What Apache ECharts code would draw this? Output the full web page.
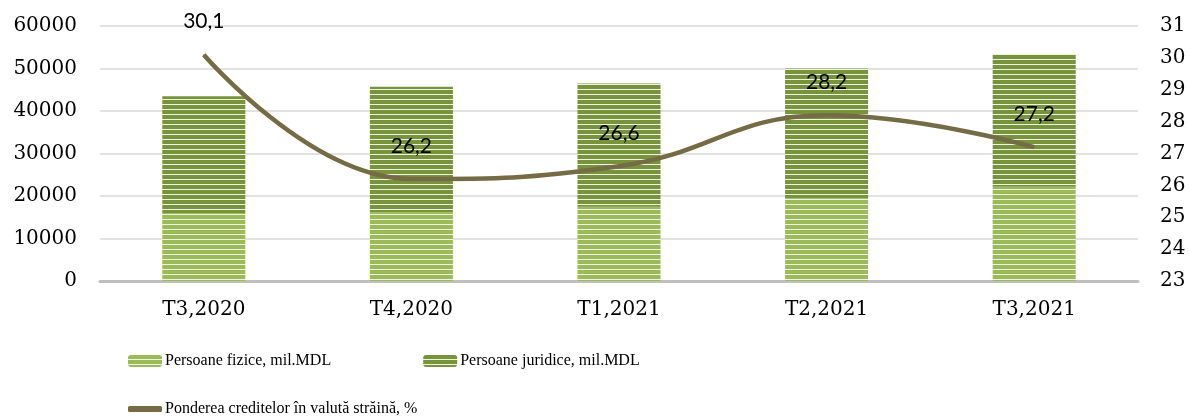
<!DOCTYPE html>
<html>
<head>
<meta charset="utf-8">
<script src="https://cdn.jsdelivr.net/npm/echarts@6/dist/echarts.min.js"></script>
<style>
  html, body { margin: 0; padding: 0; background: #fff; }
  #chart { width: 1189px; height: 417px; }
</style>
</head>
<body>
<div id="chart"></div>
<script>
const categories = ['T3,2020', 'T4,2020', 'T1,2021', 'T2,2021', 'T3,2021'];
const fizice = [16000, 16200, 17500, 19500, 22200];
const juridice = [27500, 29500, 29000, 30500, 31200];
const pondere = [30.1, 26.2, 26.6, 28.2, 27.2];

const names = [
  'Persoane fizice, mil.MDL',
  'Persoane juridice, mil.MDL',
  'Ponderea creditelor în valută străină, %'
];

// striped fill like the office pattern
function stripes(color) {
  const c = document.createElement('canvas');
  c.width = 4;
  c.height = 5;
  const ctx = c.getContext('2d');
  ctx.fillStyle = color;
  ctx.fillRect(0, 0, 4, 4);
  ctx.fillStyle = '#eef3e2';
  ctx.fillRect(0, 4, 4, 1);
  return { image: c, repeat: 'repeat' };
}

const serif = 'DejaVu Serif';
const legendFont = { fontFamily: 'Liberation Serif', fontSize: 16, color: '#000', padding: [0, 0, 0, -2] };
const chart = echarts.init(document.getElementById('chart'));

chart.setOption({
  animation: false,
  grid: { left: 100, right: 51, top: 26, bottom: 136 },
  legend: [
    {
      data: [names[0], names[1]],
      left: 123,
      top: 348,
      itemWidth: 34,
      itemHeight: 12,
      itemGap: 92,
      textStyle: legendFont
    },
    {
      data: [{ name: names[2], icon: 'roundRect' }],
      left: 123,
      top: 396,
      itemWidth: 34,
      itemHeight: 6,
      textStyle: legendFont
    }
  ],
  xAxis: {
    type: 'category',
    data: categories,
    axisTick: { show: false },
    axisLine: { lineStyle: { color: '#bfbfbf', width: 3 } },
    axisLabel: { fontFamily: serif, fontSize: 20, color: '#000', margin: 19 }
  },
  yAxis: [
    {
      type: 'value',
      min: 0,
      max: 60000,
      interval: 10000,
      axisLabel: { fontFamily: serif, fontSize: 20, color: '#000', margin: 23, formatter: v => String(v) },
      splitLine: { lineStyle: { color: '#d9d9d9', width: 1.5 } }
    },
    {
      type: 'value',
      min: 23,
      max: 31,
      interval: 1,
      axisLabel: { fontFamily: serif, fontSize: 20, color: '#000', margin: 22 },
      splitLine: { show: false }
    }
  ],
  series: [
    {
      name: names[0],
      type: 'bar',
      stack: 'total',
      barWidth: '40%',
      data: fizice,
      itemStyle: { color: stripes('#9bbb59') }
    },
    {
      name: names[1],
      type: 'bar',
      stack: 'total',
      barWidth: '40%',
      data: juridice,
      itemStyle: { color: stripes('#77933c') }
    },
    {
      name: names[2],
      type: 'line',
      yAxisIndex: 1,
      data: pondere,
      smooth: 0.45,
      symbol: 'circle',
      symbolSize: 1,
      showSymbol: true,
      lineStyle: { color: '#756c45', width: 4.5 },
      itemStyle: { color: '#756c45' },
      label: {
        show: true,
        position: 'top',
        distance: 22,
        fontFamily: 'Lato',
        fontSize: 21,
        color: '#000',
        formatter: p => String(p.value).replace('.', ',')
      },
      z: 5
    }
  ]
});
</script>
</body>
</html>
